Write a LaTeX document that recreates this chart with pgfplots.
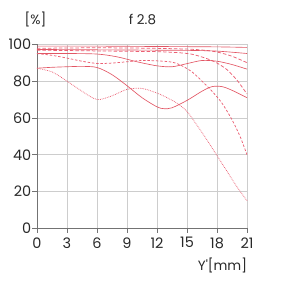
\documentclass[border=0pt]{standalone}
\usepackage{fontspec}
\setmainfont{Poppins}
\usepackage{pgfplots}
\pgfplotsset{compat=1.18}
\definecolor{mtf}{RGB}{226,86,100}
\definecolor{mtfd}{RGB}{235,95,115}
\definecolor{gridc}{RGB}{205,205,205}
\definecolor{axc}{RGB}{115,115,115}
\definecolor{txt}{RGB}{40,40,40}
\pgfplotsset{
  mtfl/.style={color=mtf, line width=0.65pt, smooth, no markers},
  mtfdl/.style={color=mtfd, line width=0.75pt, smooth, no markers},
}
\begin{document}
\begin{tikzpicture}[x=1bp,y=1bp]
\begin{axis}[
  at={(0,0)}, anchor=south west,
  width=210bp, height=184bp, scale only axis,
  xmin=0, xmax=21, ymin=0, ymax=100,
  xtick={0,3,...,21}, ytick={0,20,...,100},
  grid=major, major grid style={gridc, line width=0.7pt},
  axis x line*=bottom, axis y line*=left,
  axis line style={-, axc, line width=0.9pt},
  tick align=outside, major tick length=4.5bp,
  tick style={axc, line width=0.7pt},
  /pgf/number format/assume math mode=true,
  tick label style={font=\fontsize{14.5}{15}\selectfont, text=txt},
  yticklabel style={inner xsep=1pt},
  xticklabel style={inner ysep=4.5pt},
  clip=false,
]
% A solid top
\addplot[mtfl] coordinates {(0,99)(6,99)(12,98.8)(18,98.6)(21,98.3)};
% B dashed ending 90
\addplot[mtfdl, dash pattern=on 3.5pt off 2pt] coordinates {(0,97.8)(3,98)(6,98.1)(9,98)(12,97.8)(15,97.4)(16.5,96.9)(18,95.8)(19.5,93.5)(21,90)};
% C solid ending 95
\addplot[mtfl] coordinates {(0,97.2)(6,97)(12,96.8)(15,96.7)(18,96.3)(21,95)};
% D dashed ending 73
\addplot[mtfdl, dash pattern=on 3.5pt off 2pt] coordinates {(0,96.8)(3,96.6)(6,96.4)(9,96.2)(12,96)(14,95.5)(15.5,94.6)(17,92.2)(18,89.8)(19,86.2)(20,80.5)(21,73)};
% E solid ending 86.5
\addplot[mtfl] coordinates {(0,95)(3,95)(6,94.7)(8,93.2)(10,90.5)(12,88.3)(13.5,87.8)(15,89.5)(16.5,91.2)(18,90.8)(19.5,89)(21,86.5)};
% F dashed ending 40
\addplot[mtfdl, dash pattern=on 2.5pt off 1.8pt] coordinates {(0,95)(1.5,94)(3,92.5)(4.5,90.8)(6,89.6)(7.5,89.8)(9,90.5)(10.5,91.2)(12,91)(13.5,90.3)(14.5,88.3)(15.5,85)(16.5,80)(17.5,74.5)(18.5,68)(19.5,59)(20.3,50)(21,40)};
% G solid ending 71
\addplot[mtfl] coordinates {(0,87)(1.5,87.5)(3,87.8)(4.5,88)(6,87.4)(7.5,83.5)(9,77.5)(10.5,71)(12,66)(12.7,65)(13.5,65.5)(15,69.5)(16.5,74.5)(17.5,77)(18.5,77)(19.5,75)(21,71)};
% H dotted ending 15
\addplot[mtfdl, densely dotted] coordinates {(0,87)(1.5,85)(3,80)(4.5,74.5)(6,70)(7.5,72)(9,75.5)(10.5,76)(12,73.5)(13,71)(14,68)(15,63.5)(16,56)(17,48)(18,39.5)(19,31)(20,22.5)(21,15)};
\end{axis}
\node[font=\fontsize{13.5}{14}\selectfont, text=txt] at (-1.5,208.8) {[\%]};
\node[font=\fontsize{13.5}{14}\selectfont, text=txt] at (105.5,208.8) {f 2.8};
\node[font=\fontsize{13.5}{14}\selectfont, text=txt] at (185.5,-36.7) {Y\textquotesingle[mm]};
\pgfresetboundingbox
\path[use as bounding box] (-37,-55.7) rectangle (247,228.3);
\end{tikzpicture}
\end{document}
